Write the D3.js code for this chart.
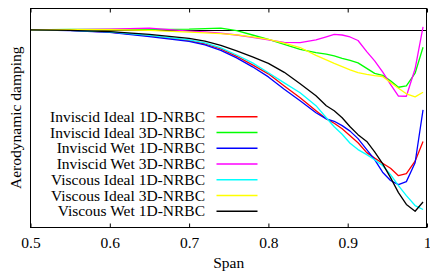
<!DOCTYPE html>
<html><head><meta charset="utf-8">
<script src="https://cdn.jsdelivr.net/npm/d3@7"></script>
<style>
html,body{margin:0;padding:0;background:#fff;}
svg{display:block;}
text{font-family:"Liberation Serif","Times New Roman",serif;}
</style>
</head><body>
<svg id="chart" width="430" height="276"></svg>
<script>
const span = [0.5,0.55,0.6,0.65,0.7,0.72,0.74,0.76,0.78,0.80,0.82,0.84,0.86,0.873,0.883,0.893,0.903,0.913,0.924,0.934,0.944,0.954,0.964,0.974,0.985,0.995];

const inviscidIdeal1D = [0,-0.002,-0.010,-0.027,-0.049,-0.064,-0.086,-0.120,-0.159,-0.200,-0.255,-0.309,-0.368,-0.405,-0.425,-0.450,-0.482,-0.514,-0.559,-0.584,-0.607,-0.630,-0.664,-0.655,-0.598,-0.508];
const inviscidIdeal3D = [0,0.002,0.003,0.003,0.004,0.006,0.008,-0.003,-0.023,-0.043,-0.066,-0.089,-0.103,-0.110,-0.118,-0.129,-0.139,-0.150,-0.175,-0.198,-0.207,-0.232,-0.261,-0.255,-0.197,-0.079];
const inviscidWet1D = [0,-0.003,-0.011,-0.030,-0.052,-0.068,-0.093,-0.127,-0.168,-0.214,-0.270,-0.323,-0.377,-0.405,-0.416,-0.436,-0.461,-0.495,-0.545,-0.591,-0.648,-0.686,-0.705,-0.691,-0.605,-0.364];
const inviscidWet3D = [0,0.001,0.004,0.008,-0.005,-0.009,-0.015,-0.023,-0.034,-0.045,-0.057,-0.058,-0.045,-0.031,-0.020,-0.023,-0.032,-0.048,-0.099,-0.141,-0.191,-0.248,-0.301,-0.302,-0.177,0.014];
const viscousIdeal1D = [0,-0.002,-0.009,-0.025,-0.045,-0.059,-0.082,-0.114,-0.150,-0.195,-0.241,-0.286,-0.345,-0.400,-0.441,-0.475,-0.516,-0.545,-0.568,-0.591,-0.618,-0.659,-0.709,-0.755,-0.800,-0.818];
const viscousIdeal3D = [0,0.001,0.001,-0.002,-0.010,-0.013,-0.017,-0.022,-0.032,-0.043,-0.060,-0.080,-0.116,-0.136,-0.152,-0.167,-0.182,-0.194,-0.202,-0.208,-0.212,-0.239,-0.266,-0.291,-0.305,-0.284];
const viscousWet1D = [0,-0.002,-0.008,-0.020,-0.038,-0.051,-0.070,-0.095,-0.123,-0.152,-0.193,-0.245,-0.300,-0.345,-0.368,-0.400,-0.441,-0.477,-0.508,-0.555,-0.609,-0.673,-0.741,-0.795,-0.826,-0.784];

const seriesNames = ["Inviscid Ideal 1D-NRBC","Inviscid Ideal 3D-NRBC","Inviscid Wet 1D-NRBC","Inviscid Wet 3D-NRBC","Viscous Ideal 1D-NRBC","Viscous Ideal 3D-NRBC","Viscous Wet 1D-NRBC"];
const xTicks = [0.5,0.6,0.7,0.8,0.9,1.0];
const xTickLabels = ["0.5","0.6","0.7","0.8","0.9","1"];
const xLabel = "Span";
const yLabel = "Aerodynamic damping";

(function(){
const seriesValues = [inviscidIdeal1D,inviscidIdeal3D,inviscidWet1D,inviscidWet3D,viscousIdeal1D,viscousIdeal3D,viscousWet1D];
const colors = ["#ff0000","#00ff00","#0000ff","#ff00ff","#00ffff","#ffff00","#000000"];

const svg = d3.select("#chart");
const mL = 30.5, mR = 427, mT = 8, mB = 227.5;
const x = d3.scaleLinear().domain([0.5,1.0]).range([mL,mR]);
const y = d3.scaleLinear().domain([-0.9,0.1]).range([mB,mT]);
const fs = 15.5;

// zero line
svg.append("line").attr("x1",mL).attr("x2",mR)
  .attr("y1",Math.round(y(0))+0.5).attr("y2",Math.round(y(0))+0.5)
  .attr("stroke","#000").attr("stroke-width",1);

// axes (ticks inward)
const xAxis = d3.axisBottom(x).tickValues(xTicks).tickFormat((d,i)=>xTickLabels[i])
  .tickSizeInner(-4).tickSizeOuter(0).tickPadding(9.5);
const gx = svg.append("g").attr("transform",`translate(0,${mB})`).call(xAxis);
gx.select(".domain").remove();
gx.selectAll("text").attr("font-size",fs).attr("font-family","Liberation Serif, serif").attr("fill","#000");
gx.selectAll("line").attr("stroke","#000");

const xTop = d3.axisTop(x).tickValues(xTicks).tickFormat("").tickSizeInner(-4).tickSizeOuter(0);
const gt = svg.append("g").attr("transform",`translate(0,${mT+0.5})`).call(xTop);
gt.select(".domain").remove();
gt.selectAll("line").attr("stroke","#000");

// series
const line = d3.line().x((d,i)=>x(span[i])).y(d=>y(d)).curve(d3.curveLinear);
seriesValues.forEach((vals,k)=>{
  svg.append("path").datum(vals).attr("d",line)
    .attr("fill","none").attr("stroke",colors[k]).attr("stroke-width",1.3)
    .attr("stroke-linejoin","round");
});

// frame
svg.append("rect").attr("x",mL).attr("y",mT+0.5)
  .attr("width",mR-mL-0.5).attr("height",mB-mT-0.5)
  .attr("fill","none").attr("stroke","#000").attr("stroke-width",1);

// legend
const legY0 = 116.8, legDy = 15.73;
const leg = svg.append("g");
seriesNames.forEach((name,k)=>{
  const yy = legY0 + k*legDy;
  leg.append("text").attr("x",205).attr("y",yy).attr("dy","0.33em")
    .attr("text-anchor","end").attr("font-size",fs).attr("fill","#000").text(name);
  leg.append("line").attr("x1",216.5).attr("x2",257.5)
    .attr("y1",yy).attr("y2",yy)
    .attr("stroke",colors[k]).attr("stroke-width",1.5);
});

// axis labels
svg.append("text").attr("x",(mL+mR)/2).attr("y",268)
  .attr("text-anchor","middle").attr("font-size",fs).attr("fill","#000").text(xLabel);
svg.append("text").attr("transform",`translate(16,${(mT+mB)/2}) rotate(-90)`)
  .attr("text-anchor","middle").attr("dy","0.32em").attr("font-size",fs).attr("fill","#000").text(yLabel);
})();
</script>
</body></html>
